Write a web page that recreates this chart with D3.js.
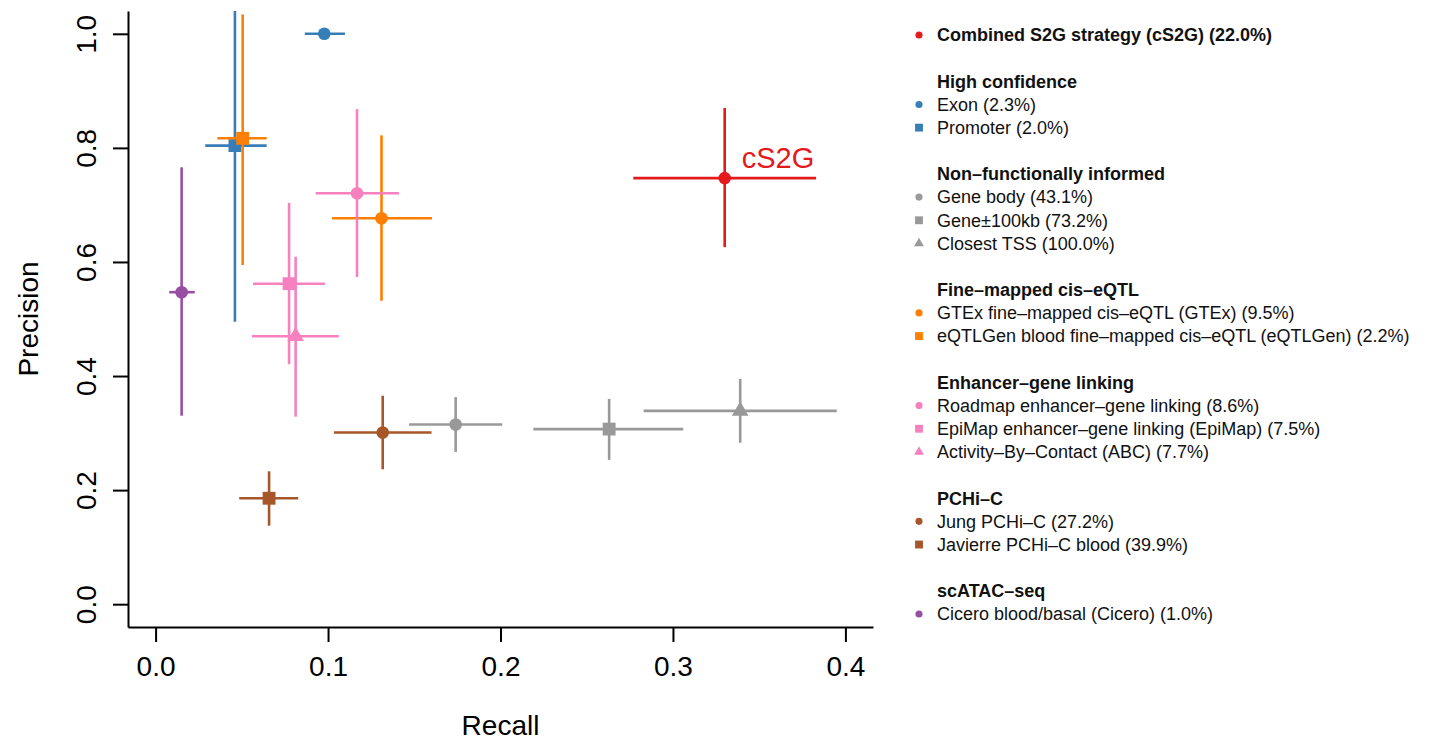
<!DOCTYPE html>
<html lang="en">
<head>
<meta charset="UTF-8">
<title>Precision vs Recall of S2G strategies</title>
<script src="https://d3js.org/d3.v7.min.js"></script>
<style>
    body { margin: 0; background: #fff; }
    svg { display: block; font-family: "Liberation Sans", Arial, Helvetica, sans-serif; }
    .axis text { font-size: 28px; fill: #000; }
    .axis path, .axis line { stroke: #000; stroke-width: 2px; }
    .legend text { font-size: 18px; fill: #111; }
    .legend .head { font-weight: bold; }
</style>
</head>
<body>
<div id="chart"></div>
<script>
// one entry per S2G strategy
const labels = ["cS2G", "Exon", "Promoter", "Gene body", "Gene±100kb", "Closest TSS",
    "GTEx", "eQTLGen", "Roadmap", "EpiMap", "ABC", "Jung", "Javierre", "Cicero"];
const colors = ["#E41A1C", "#377EB8", "#377EB8", "#999999", "#999999", "#999999",
    "#FF7F00", "#FF7F00", "#F781BF", "#F781BF", "#F781BF", "#A65628", "#A65628", "#984EA3"];
const shapes = ["circle", "circle", "square", "circle", "square", "triangle",
    "circle", "square", "circle", "square", "triangle", "circle", "square", "circle"];

const recall   = [0.330, 0.0978, 0.046, 0.174, 0.263, 0.339, 0.131, 0.0505, 0.1168, 0.0774, 0.0812, 0.1317, 0.0658, 0.0151];
const recallLo = [0.277, 0.0865, 0.0288, 0.147, 0.219, 0.283, 0.1023, 0.0358, 0.0928, 0.0565, 0.0559, 0.1034, 0.0485, 0.0079];
const recallHi = [0.383, 0.1098, 0.0644, 0.201, 0.306, 0.395, 0.1603, 0.0644, 0.1411, 0.0982, 0.1063, 0.160, 0.0827, 0.0227];
const precision = [0.747, 1.0, 0.804, 0.315, 0.307, 0.339, 0.6766, 0.8168, 0.7204, 0.5619, 0.4697, 0.301, 0.1857, 0.547];
const precLo    = [0.626, 1.0, 0.495, 0.267, 0.253, 0.283, 0.532, 0.5947, 0.5736, 0.4206, 0.3287, 0.2365, 0.1376, 0.3305];
const precHi    = [0.870, 1.0, 1.10, 0.363, 0.360, 0.395, 0.822, 1.034, 0.868, 0.7034, 0.6092, 0.3655, 0.233, 0.766];

const xTicks = [0, 0.1, 0.2, 0.3, 0.4];
const yTicks = [0, 0.2, 0.4, 0.6, 0.8, 1.0];

// legend: null = blank row, {head} = bold group title, i = index into the arrays above
const legendRows = [
    {i: 0, text: "Combined S2G strategy (cS2G) (22.0%)", bold: true},
    null,
    {head: "High confidence"},
    {i: 1, text: "Exon (2.3%)"},
    {i: 2, text: "Promoter (2.0%)"},
    null,
    {head: "Non–functionally informed"},
    {i: 3, text: "Gene body (43.1%)"},
    {i: 4, text: "Gene±100kb (73.2%)"},
    {i: 5, text: "Closest TSS (100.0%)"},
    null,
    {head: "Fine–mapped cis–eQTL"},
    {i: 6, text: "GTEx fine–mapped cis–eQTL (GTEx) (9.5%)"},
    {i: 7, text: "eQTLGen blood fine–mapped cis–eQTL (eQTLGen) (2.2%)"},
    null,
    {head: "Enhancer–gene linking"},
    {i: 8, text: "Roadmap enhancer–gene linking (8.6%)"},
    {i: 9, text: "EpiMap enhancer–gene linking (EpiMap) (7.5%)"},
    {i: 10, text: "Activity–By–Contact (ABC) (7.7%)"},
    null,
    {head: "PCHi–C"},
    {i: 11, text: "Jung PCHi–C (27.2%)"},
    {i: 12, text: "Javierre PCHi–C blood (39.9%)"},
    null,
    {head: "scATAC–seq"},
    {i: 13, text: "Cicero blood/basal (Cicero) (1.0%)"}
];

const width = 1434, height = 742;
const plot = {left: 128, right: 873, top: 11, bottom: 627};

const svg = d3.select("#chart").append("svg")
    .attr("width", width)
    .attr("height", height);

svg.append("rect").attr("width", width).attr("height", height).attr("fill", "#fff");

// R style 4% padding around the limits
const x = d3.scaleLinear().domain([-0.016, 0.416]).range([plot.left, plot.right]);
const y = d3.scaleLinear().domain([-0.04, 1.04]).range([plot.bottom, plot.top]);

svg.append("clipPath").attr("id", "clip")
    .append("rect")
    .attr("x", plot.left).attr("y", plot.top)
    .attr("width", plot.right - plot.left).attr("height", plot.bottom - plot.top);

// axes
svg.append("g").attr("class", "axis")
    .attr("transform", `translate(0,${plot.bottom})`)
    .call(d3.axisBottom(x).tickValues(xTicks).tickFormat(d3.format(".1f")).tickSizeInner(15).tickSizeOuter(0).tickPadding(14));

const yAxis = svg.append("g").attr("class", "axis")
    .attr("transform", `translate(${plot.left},0)`)
    .call(d3.axisLeft(y).tickValues(yTicks).tickFormat(d3.format(".1f")).tickSizeInner(15).tickSizeOuter(0));

yAxis.selectAll(".tick text")
    .attr("x", null).attr("dy", null)
    .attr("text-anchor", "middle")
    .attr("transform", "translate(-32,0) rotate(-90)");

svg.append("text")
    .attr("x", (plot.left + plot.right) / 2)
    .attr("y", 735)
    .attr("text-anchor", "middle")
    .style("font-size", "28px")
    .text("Recall");

svg.append("text")
    .attr("transform", `translate(38,${(plot.top + plot.bottom) / 2}) rotate(-90)`)
    .attr("text-anchor", "middle")
    .style("font-size", "28px")
    .text("Precision");

// points with error bars
const g = svg.append("g").attr("clip-path", "url(#clip)");
const sym = {
    circle: d3.symbol(d3.symbolCircle, 125),
    square: d3.symbol(d3.symbolSquare, 165),
    triangle: d3.symbol(d3.symbolTriangle, 120)
};

labels.forEach((name, i) => {
    const cx = x(recall[i]), cy = y(precision[i]);
    const grp = g.append("g").attr("class", "method").attr("data-name", name);
    grp.append("line")
        .attr("x1", x(recallLo[i])).attr("x2", x(recallHi[i]))
        .attr("y1", cy).attr("y2", cy)
        .attr("stroke", colors[i]).attr("stroke-width", 2.6);
    grp.append("line")
        .attr("x1", cx).attr("x2", cx)
        .attr("y1", y(precLo[i])).attr("y2", y(precHi[i]))
        .attr("stroke", colors[i]).attr("stroke-width", 2.6);
    grp.append("path")
        .attr("transform", `translate(${cx},${cy})`)
        .attr("d", sym[shapes[i]]())
        .attr("fill", colors[i]);
});

svg.append("text")
    .attr("x", x(recall[0]) + 17)
    .attr("y", y(precision[0]) - 10)
    .style("font-size", "29px")
    .attr("fill", colors[0])
    .text("cS2G");

// legend
const legend = svg.append("g").attr("class", "legend");
const rowY = r => 35 + r * 23.16;
const legSym = {
    circle: d3.symbol(d3.symbolCircle, 40),
    square: d3.symbol(d3.symbolSquare, 62),
    triangle: d3.symbol(d3.symbolTriangle, 42)
};

legendRows.forEach((row, r) => {
    if (!row) return;
    const yy = rowY(r);
    if (row.head) {
        legend.append("text")
            .attr("class", "head")
            .attr("x", 937).attr("y", yy).attr("dy", "0.35em")
            .text(row.head);
        return;
    }
    legend.append("path")
        .attr("transform", `translate(919,${yy})`)
        .attr("d", legSym[shapes[row.i]]())
        .attr("fill", colors[row.i]);
    legend.append("text")
        .attr("class", row.bold ? "head" : null)
        .attr("x", 937).attr("y", yy).attr("dy", "0.35em")
        .text(row.text);
});
</script>
</body>
</html>
